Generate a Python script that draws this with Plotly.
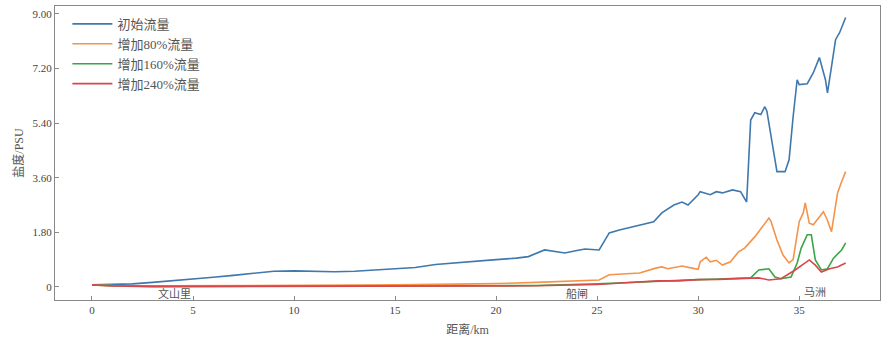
import plotly.graph_objects as go

# 沿程盐度分布（距离 km，盐度 PSU）
dist_base = [0, 1, 2, 3, 4, 5, 6, 7, 8, 8.5, 9, 10, 11, 12, 13, 14, 15, 16, 17, 18, 19, 20,
             21, 21.6, 22.4, 22.8, 23.4, 24.0, 24.4, 25.1, 25.6, 26.1, 27.1, 27.8, 28.2, 28.8,
             29.2, 29.5, 30.0, 30.1, 30.6, 30.9, 31.2, 31.7, 32.1, 32.4, 32.6, 32.8, 33.1, 33.3,
             33.4, 33.7, 33.9, 34.3, 34.5, 34.7, 34.9, 35.0, 35.4, 35.7, 36.0, 36.3, 36.4, 36.6,
             36.8, 37.0, 37.2, 37.3]
salt_base = [0.07, 0.08, 0.1, 0.15, 0.2, 0.26, 0.32, 0.38, 0.45, 0.5, 0.52, 0.53, 0.52, 0.5, 0.52,
             0.56, 0.6, 0.64, 0.74, 0.8, 0.86, 0.9, 0.95, 1.0, 1.22, 1.18, 1.12, 1.2, 1.25, 1.22,
             1.78, 1.88, 2.05, 2.15, 2.44, 2.7, 2.8, 2.7, 3.04, 3.14, 3.04, 3.14, 3.1, 3.2, 3.14,
             2.8, 5.5, 5.74, 5.68, 5.94, 5.8, 4.62, 3.8, 3.8, 4.19, 5.61, 6.83, 6.67, 6.7, 7.06,
             7.56, 6.83, 6.4, 7.26, 8.15, 8.38, 8.7, 8.88]

dist_80 = [0, 1, 3, 5, 8, 10, 13, 15, 18, 20, 22, 23.5, 25.1, 25.6, 27.1, 27.9, 28.2, 28.5,
           29.2, 29.7, 30.0, 30.1, 30.4, 30.6, 30.9, 31.2, 31.6, 32.0, 32.3, 32.8, 33.3, 33.5,
           33.6, 33.9, 34.2, 34.5, 34.7, 34.9, 35.0, 35.2, 35.3, 35.5, 35.7, 36.2, 36.4, 36.6,
           36.9, 37.1, 37.3]
salt_80 = [0.07, 0.05, 0.04, 0.04, 0.05, 0.05, 0.06, 0.07, 0.09, 0.11, 0.15, 0.19, 0.23, 0.4,
           0.46, 0.62, 0.66, 0.6, 0.69, 0.62, 0.58, 0.83, 0.98, 0.83, 0.88, 0.72, 0.83, 1.16,
           1.28, 1.65, 2.1, 2.27, 2.17, 1.55, 1.05, 0.79, 0.9, 1.78, 2.15, 2.44, 2.77, 2.1, 2.05,
           2.48, 2.2, 1.82, 3.1, 3.47, 3.8]

dist_160 = [0, 1, 3, 5, 8, 10, 13, 15, 18, 20, 22, 24, 25, 26, 27, 28, 29, 30, 31, 32, 32.6,
            33.0, 33.5, 33.8, 34.1, 34.6, 34.9, 35.1, 35.4, 35.6, 35.8, 36.1, 36.4, 36.7, 37.1,
            37.3]
salt_160 = [0.07, 0.04, 0.02, 0.02, 0.02, 0.02, 0.02, 0.03, 0.03, 0.04, 0.05, 0.07, 0.1, 0.13,
            0.16, 0.2, 0.21, 0.24, 0.26, 0.28, 0.3, 0.56, 0.6, 0.33, 0.27, 0.33, 0.79, 1.28,
            1.72, 1.72, 0.89, 0.56, 0.6, 0.95, 1.22, 1.45]

dist_240 = [0, 1, 3, 5, 8, 10, 13, 15, 18, 20, 22, 24, 25, 26, 27, 28, 29, 30, 31, 32, 32.6,
            33.0, 33.5, 34.1, 34.8, 35.5, 35.8, 36.1, 36.5, 36.9, 37.3]
salt_240 = [0.07, 0.03, 0.01, 0.01, 0.01, 0.01, 0.01, 0.02, 0.02, 0.03, 0.04, 0.06, 0.08, 0.12,
            0.15, 0.2, 0.2, 0.24, 0.25, 0.27, 0.28, 0.3, 0.23, 0.27, 0.56, 0.89, 0.72, 0.49,
            0.6, 0.66, 0.79]

series_names = ["初始流量", "增加80%流量", "增加160%流量", "增加240%流量"]
series_colors = ["#3f78ad", "#f5934a", "#3aa646", "#d9474a"]

place_names = ["文山里", "船闸", "马洲"]
place_km = [4.1, 24.0, 35.8]
place_y = [-0.2, -0.2, -0.17]

y_ticks = [0, 1.8, 3.6, 5.4, 7.2, 9.0]
y_tick_text = ["0", "1.80", "3.60", "5.40", "7.20", "9.00"]
x_ticks = [0, 5, 10, 15, 20, 25, 30, 35]

serif = "Liberation Serif, Noto Sans CJK SC"

fig = go.Figure()
for xs, ys, name, color in zip(
        [dist_base, dist_80, dist_160, dist_240],
        [salt_base, salt_80, salt_160, salt_240],
        series_names, series_colors):
    fig.add_trace(go.Scatter(x=xs, y=ys, mode="lines", name=name,
                             line=dict(color=color, width=1.6)))

for name, km, yv in zip(place_names, place_km, place_y):
    fig.add_annotation(x=km, y=yv, text=name, showarrow=False,
                       font=dict(family=serif, size=11, color="#555"))

fig.update_layout(
    width=881, height=344,
    margin=dict(l=55, r=1, t=6, b=44),
    paper_bgcolor="white", plot_bgcolor="white",
    font=dict(family=serif, size=11, color="#444"),
    showlegend=True,
    legend=dict(x=0.015, y=0.99, xanchor="left", yanchor="top",
                bgcolor="rgba(0,0,0,0)", font=dict(family=serif, size=13, color="#555"),
                tracegroupgap=0, itemwidth=40),
    xaxis=dict(range=[-1.83, 39.0], tickvals=x_ticks, ticks="inside", ticklen=4,
               showgrid=False, zeroline=False, showline=True, linecolor="#888",
               linewidth=1.2, mirror=True, tickcolor="#888",
               title=dict(text="距离/km", font=dict(size=12, color="#555"), standoff=10)),
    yaxis=dict(range=[-0.43, 9.26], tickvals=y_ticks, ticktext=y_tick_text, ticks="inside",
               ticklen=4, showgrid=False, zeroline=False, showline=True, linecolor="#888",
               linewidth=1.2, mirror=True, tickcolor="#888",
               title=dict(text="盐度/PSU", font=dict(size=12, color="#555"), standoff=6)),
)

fig.write_html("out.html")
